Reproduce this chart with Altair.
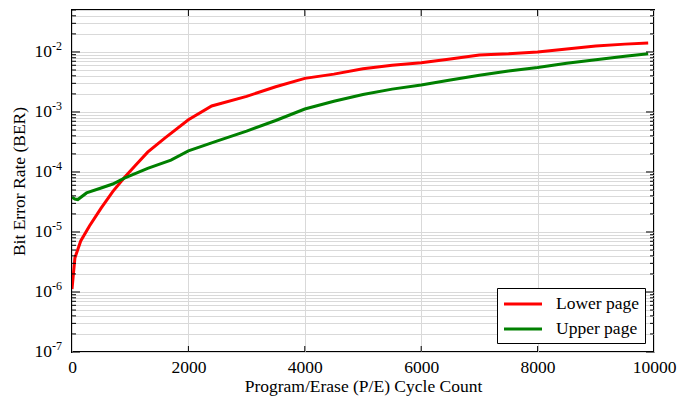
import altair as alt
import pandas as pd

# ---- data ----
lower_x = [0, 50, 150, 300, 500, 700, 900, 1100, 1300, 1600, 2000, 2400, 3000, 3500,
           4000, 4500, 5000, 5500, 6000, 6500, 7000, 7500, 8000, 8500, 9000, 9500, 9900]
lower_ber = [1.12e-6, 3.7e-6, 7.1e-6, 1.26e-5, 2.5e-5, 4.7e-5, 8.1e-5, 1.32e-4, 2.14e-4,
             3.7e-4, 7.4e-4, 1.26e-3, 1.82e-3, 2.63e-3, 3.63e-3, 4.27e-3, 5.25e-3, 6.0e-3,
             6.6e-3, 7.6e-3, 8.9e-3, 9.3e-3, 1.0e-2, 1.12e-2, 1.26e-2, 1.35e-2, 1.41e-2]

upper_x = [0, 50, 100, 250, 500, 700, 900, 1300, 1700, 2000, 2500, 3000, 3500, 4000,
           4500, 5000, 5500, 6000, 6500, 7000, 7500, 8000, 8500, 9000, 9500, 9900]
upper_ber = [3.8e-5, 3.55e-5, 3.47e-5, 4.47e-5, 5.4e-5, 6.3e-5, 7.9e-5, 1.15e-4, 1.58e-4,
             2.24e-4, 3.3e-4, 4.8e-4, 7.2e-4, 1.12e-3, 1.51e-3, 1.95e-3, 2.4e-3, 2.82e-3,
             3.4e-3, 4.1e-3, 4.8e-3, 5.5e-3, 6.5e-3, 7.4e-3, 8.5e-3, 9.3e-3]

series_names = ["Lower page", "Upper page"]
series_colors = ["#ff0000", "#008000"]

x_ticks = [0, 2000, 4000, 6000, 8000, 10000]
y_exponents = [-7, -6, -5, -4, -3, -2]

# ---- tables ----
lines = pd.concat([
    pd.DataFrame({"pe": lower_x, "ber": lower_ber, "series": series_names[0]}),
    pd.DataFrame({"pe": upper_x, "ber": upper_ber, "series": series_names[1]}),
])

major_vals = [10.0 ** e for e in y_exponents]
minor_vals = [m * 10.0 ** e for e in y_exponents for m in range(2, 10) if m * 10.0 ** e <= 0.05]
grid_vals = sorted(major_vals + minor_vals)

labels = pd.DataFrame({"v": major_vals, "base": ["10"] * len(y_exponents),
                       "exp": [str(e) for e in y_exponents]})
major_df = pd.DataFrame({"v": major_vals})
minor_df = pd.DataFrame({"v": minor_vals})
xt_df = pd.DataFrame({"t": x_ticks[1:-1]})

W, H = 582, 342
FONT = "Liberation Serif"
FS = 17.5

xscale = alt.Scale(domain=[0, 10000], nice=False)
yscale = alt.Scale(type="log", domain=[1e-7, 0.05], nice=False)

base_lines = alt.Chart(lines).mark_line(strokeWidth=3, clip=True).encode(
    x=alt.X("pe:Q", scale=xscale,
            axis=alt.Axis(values=x_ticks, title="Program/Erase (P/E) Cycle Count",
                          format="d", grid=True, ticks=False, domain=False,
                          labelFlush=False, labelPadding=6, titlePadding=2)),
    y=alt.Y("ber:Q", scale=yscale,
            axis=alt.Axis(values=grid_vals, labels=False, ticks=False, domain=False,
                          grid=True, title="Bit Error Rate (BER)", titlePadding=44)),
    color=alt.Color("series:N", scale=alt.Scale(domain=series_names, range=series_colors),
                    legend=alt.Legend(title=None, orient="bottom-right", offset=9,
                                      strokeColor="black", fillColor="white",
                                      padding=5, symbolType="M-2,0L2,0",
                                      symbolStrokeWidth=3, symbolSize=361,
                                      symbolOffset=10, labelOffset=22,
                                      labelFontSize=FS, labelFont=FONT,
                                      labelColor="black", rowPadding=5)),
)

def yticks(df, x0, x1):
    return alt.Chart(df).mark_rule(color="black", strokeWidth=1).encode(
        y=alt.Y("v:Q", scale=yscale), x=alt.value(x0), x2=alt.value(x1))

def xticks(y0, y1):
    return alt.Chart(xt_df).mark_rule(color="black", strokeWidth=1).encode(
        x=alt.X("t:Q", scale=xscale), y=alt.value(y0), y2=alt.value(y1))

lab_base = alt.Chart(labels).mark_text(align="right", baseline="middle", fontSize=FS,
                                       font=FONT, color="black").encode(
    y=alt.Y("v:Q", scale=yscale), x=alt.value(-20), text="base:N")
lab_exp = alt.Chart(labels).mark_text(align="left", baseline="middle", fontSize=12,
                                      font=FONT, color="black", dy=-6).encode(
    y=alt.Y("v:Q", scale=yscale), x=alt.value(-20), text="exp:N")

chart = alt.layer(
    base_lines,
    yticks(major_df, 0, 8), yticks(minor_df, 0, 4),
    yticks(major_df, W, W - 8), yticks(minor_df, W, W - 4),
    xticks(H, H - 6), xticks(0, 6),
    lab_base, lab_exp,
).properties(
    width=W, height=H,
    autosize=alt.AutoSizeParams(type="none"),
    padding={"left": 64, "top": 2, "right": 27, "bottom": 47},
).configure_view(stroke="black", strokeWidth=2).configure_axis(
    gridColor="#d9d9d9", gridWidth=1, labelFont=FONT, titleFont=FONT,
    labelFontSize=FS, titleFontSize=FS, titleFontWeight="normal", labelColor="black",
    titleColor="black",
)

chart.save("out.html", embed_options={"renderer": "svg", "actions": False})
